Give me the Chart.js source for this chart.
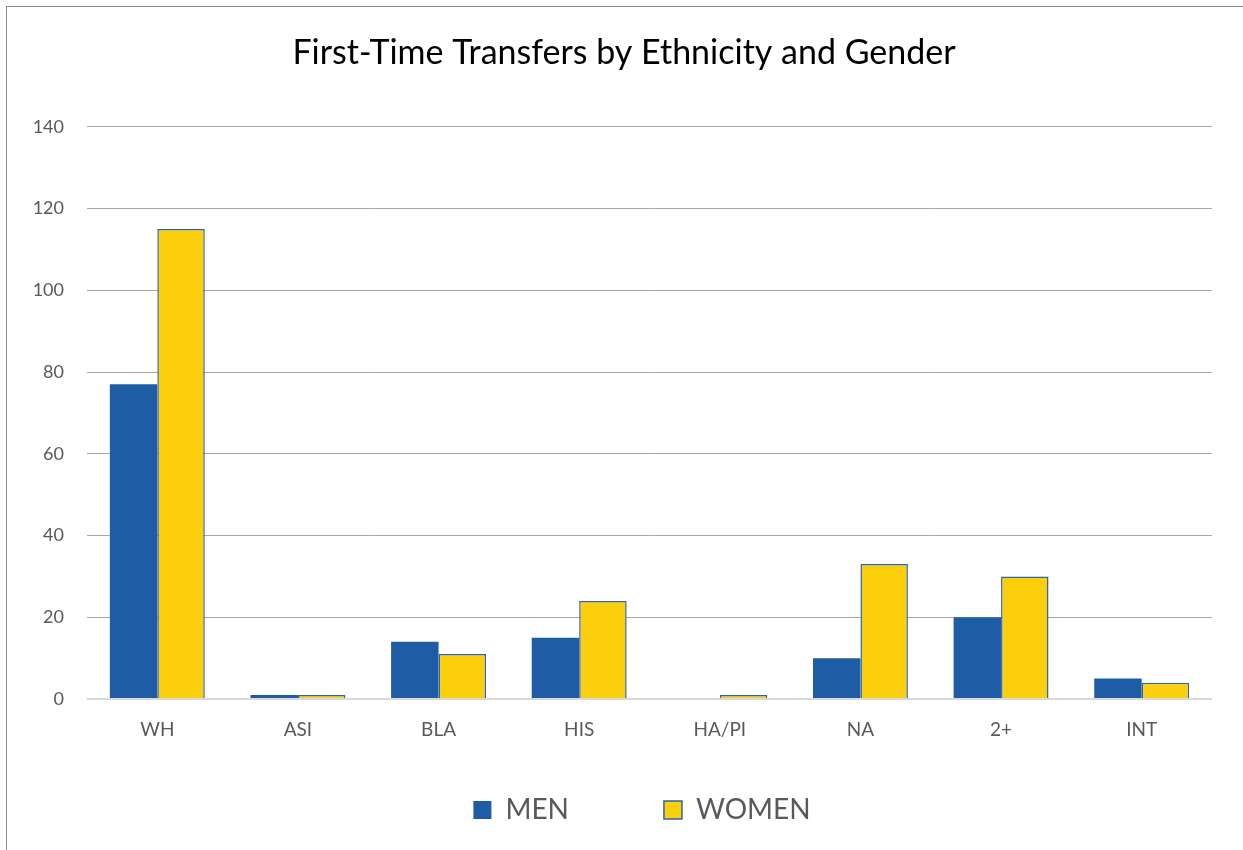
<!DOCTYPE html>
<html lang="en">
  <head>
    <meta charset="UTF-8" />
    <title>First-Time Transfers by Ethnicity and Gender</title>
    <script src="https://cdn.jsdelivr.net/npm/chart.js"></script>
    <style>
      body {
        margin: 0;
        background: #fff;
        overflow: hidden;
      }
      #frame {
        position: absolute;
        left: 6px;
        top: 6px;
        width: 1300px;
        height: 900px;
        border-left: 1px solid #8c8c8c;
        border-top: 1px solid #8c8c8c;
      }
      #chart-container {
        position: absolute;
        left: 0;
        top: 0;
        width: 1243px;
        height: 850px;
      }
    </style>
  </head>
  <body>
    <div id="frame"></div>
    <div id="chart-container">
      <canvas id="myChart"></canvas>
    </div>

    <script>
      const categories = ["WH", "ASI", "BLA", "HIS", "HA/PI", "NA", "2+", "INT"];
      const men = [77, 1, 14, 15, 0, 10, 20, 5];
      const women = [115, 1, 11, 24, 1, 33, 30, 4];
      const yTicks = [0, 20, 40, 60, 80, 100, 120, 140];

      const font = "Lato, 'Liberation Sans', sans-serif";

      // nudge title and legend to where the original puts them
      const nudgeBlocks = {
        id: "nudgeBlocks",
        afterLayout(chart) {
          const lg = chart.legend;
          lg.left += 36;
          lg.right += 36;
          lg.top -= 43;
          lg.height += 43;
          const t = chart.titleBlock;
          t.left += 18;
          t.right += 18;
        },
      };

      const ctx = document.getElementById("myChart").getContext("2d");
      new Chart(ctx, {
        type: "bar",
        data: {
          labels: categories,
          datasets: [
            {
              label: "MEN",
              data: men,
              backgroundColor: "#1f5ca6",
              borderWidth: 0,
            },
            {
              label: "WOMEN",
              data: women,
              backgroundColor: "#fbcf0b",
              borderColor: "#2e63ae",
              borderWidth: 1.5,
            },
          ],
        },
        plugins: [nudgeBlocks],
        options: {
          responsive: true,
          maintainAspectRatio: false,
          animation: false,
          datasets: {
            bar: { categoryPercentage: 0.675, barPercentage: 1 },
          },
          layout: { padding: { left: 0, right: 31, top: 0, bottom: 0 } },
          plugins: {
            title: {
              display: true,
              text: "First-Time Transfers by Ethnicity and Gender",
              color: "#000",
              font: { family: font, size: 34, weight: "normal" },
              padding: { top: 33, bottom: 53 },
            },
            legend: {
              position: "bottom",
              maxHeight: 106,
              labels: {
                color: "#595959",
                font: { family: font, size: 28 },
                boxWidth: 18,
                boxHeight: 18,
                padding: 95,
              },
            },
            tooltip: { enabled: false },
          },
          scales: {
            x: {
              grid: { display: false },
              border: { display: false },
              ticks: {
                color: "#595959",
                font: { family: font, size: 19 },
                padding: 11,
              },
              afterFit: (scale) => {
                scale.height = 45;
              },
            },
            y: {
              min: 0,
              max: 140,
              afterBuildTicks: (scale) => {
                scale.ticks = yTicks.map((v) => ({ value: v }));
              },
              grid: {
                drawTicks: false,
                color: (c) => (c.tick && c.tick.value === 0 ? "#d9d9d9" : "#a6a6a6"),
                lineWidth: (c) => (c.tick && c.tick.value === 0 ? 2 : 1),
              },
              border: { display: false },
              ticks: {
                color: "#595959",
                font: { family: font, size: 18 },
                padding: 23,
              },
              afterFit: (scale) => {
                scale.width = 87;
              },
            },
          },
        },
      });
    </script>
  </body>
</html>
